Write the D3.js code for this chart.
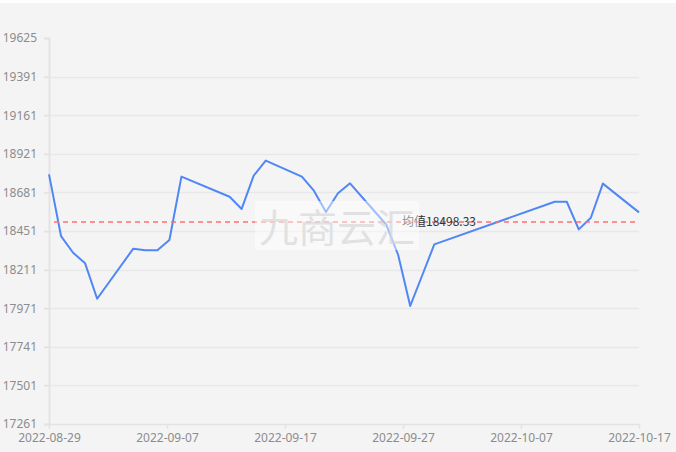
<!DOCTYPE html>
<html>
<head>
<meta charset="utf-8">
<script src="https://cdn.jsdelivr.net/npm/d3@7"></script>
<style>
  html, body { margin: 0; padding: 0; background: #ffffff; }
  svg { display: block; }
  text { font-family: "Noto Sans", "Noto Sans CJK SC", sans-serif; }
</style>
</head>
<body>
<svg id="chart" width="676" height="452"></svg>
<script>
// ---- data ----
const dates = [
  "2022-08-29","2022-08-30","2022-08-31","2022-09-01","2022-09-02",
  "2022-09-05","2022-09-06","2022-09-07","2022-09-08","2022-09-09",
  "2022-09-13","2022-09-14","2022-09-15","2022-09-16",
  "2022-09-19","2022-09-20","2022-09-21","2022-09-22","2022-09-23",
  "2022-09-26","2022-09-27","2022-09-28","2022-09-29","2022-09-30",
  "2022-10-10","2022-10-11","2022-10-12","2022-10-13","2022-10-14",
  "2022-10-17"
];
const values = [
  18790, 18412, 18310, 18245, 18028,
  18335, 18325, 18325, 18388, 18776,
  18653, 18578, 18782, 18874,
  18776, 18690, 18559, 18674, 18735,
  18483, 18296, 17984, 18172, 18361,
  18622, 18622, 18453, 18524, 18733,
  18557
];
const yTickLabels = ["17261","17501","17741","17971","18211","18451","18681","18921","19161","19391","19625"];
const xTickLabels = ["2022-08-29","2022-09-07","2022-09-17","2022-09-27","2022-10-07","2022-10-17"];
const meanValue = 18498.33;
const meanLabel = "均值18498.33";
const watermark = "九商云汇";

// ---- layout ----
const W = 676, H = 452;
const plot = { left: 49, right: 639, top: 38, bottom: 424 };
const svg = d3.select("#chart");

svg.append("rect").attr("x", 0).attr("y", 3).attr("width", W).attr("height", H - 3).attr("fill", "#f4f4f4");

const parse = d3.utcParse("%Y-%m-%d");
const pts = dates.map((d, i) => ({ date: parse(d), value: values[i] }));

const yMin = +yTickLabels[0], yMax = +yTickLabels[yTickLabels.length - 1];
const x = d3.scaleUtc()
  .domain([parse(xTickLabels[0]), parse(xTickLabels[xTickLabels.length - 1])])
  .range([plot.left, plot.right]);
const y = d3.scaleLinear().domain([yMin, yMax]).range([plot.bottom, plot.top]);

const nY = yTickLabels.length - 1;
const yTickVals = d3.range(nY + 1).map(i => yMin + i * (yMax - yMin) / nY);
const [t0, t1] = x.domain().map(d => +d);
const nX = xTickLabels.length - 1;
const xTickVals = d3.range(nX + 1).map(i => new Date(t0 + i * (t1 - t0) / nX));

// gridlines
svg.append("g").selectAll("line")
  .data(yTickVals.slice(1, -1))
  .join("line")
  .attr("x1", plot.left - 5).attr("x2", plot.right)
  .attr("y1", d => Math.round(y(d)) + 0.5).attr("y2", d => Math.round(y(d)) + 0.5)
  .attr("stroke", "#e8e8e8").attr("stroke-width", 1.5);

// y axis
const yAxis = d3.axisLeft(y).tickValues(yTickVals).tickSize(5).tickPadding(7)
  .tickFormat((d, i) => yTickLabels[i]);
const gy = svg.append("g").attr("transform", `translate(${plot.left},0)`).call(yAxis);
gy.select(".domain").attr("stroke", "#e3e3e3").attr("stroke-width", 2);
gy.selectAll(".tick line").attr("stroke", "#e3e3e3").attr("stroke-width", 1.5);
gy.selectAll(".tick text").attr("fill", "#8c8c8c").attr("font-size", 12)
  .style("font-family", '"Noto Sans", sans-serif');

// x axis
const xAxis = d3.axisBottom(x).tickValues(xTickVals).tickSize(5).tickSizeOuter(0).tickPadding(4)
  .tickFormat((d, i) => xTickLabels[i]);
const gx = svg.append("g").attr("transform", `translate(0,${plot.bottom})`).call(xAxis);
gx.select(".domain").attr("stroke", "#e3e3e3").attr("stroke-width", 1.5);
gx.selectAll(".tick line").attr("stroke", "#e3e3e3").attr("stroke-width", 1.5);
gx.selectAll(".tick text").attr("fill", "#8c8c8c").attr("font-size", 12)
  .style("font-family", '"Noto Sans", sans-serif');

// series line
const line = d3.line().x(d => x(d.date)).y(d => y(d.value));
svg.append("path").datum(pts)
  .attr("d", line)
  .attr("fill", "none")
  .attr("stroke", "#5087f5")
  .attr("stroke-width", 2)
  .attr("stroke-linejoin", "round");

// mean line
svg.append("line")
  .attr("x1", plot.left + 5).attr("x2", plot.right)
  .attr("y1", y(meanValue)).attr("y2", y(meanValue))
  .attr("stroke", "#ff6f6f").attr("stroke-width", 1.6)
  .attr("stroke-dasharray", "5,4");
svg.append("text")
  .attr("x", 402).attr("y", y(meanValue) + 4.5)
  .attr("fill", "#333").attr("font-size", 12)
  .style("font-family", '"Noto Sans CJK SC", "Noto Sans", sans-serif')
  .text(meanLabel);

// watermark
const wm = svg.append("g");
wm.append("rect").attr("x", 255).attr("y", 201).attr("width", 164).attr("height", 49)
  .attr("fill", "rgba(255,255,255,0.45)");
wm.append("text").attr("x", 337).attr("y", 242).attr("text-anchor", "middle")
  .attr("font-size", 39).attr("fill", "rgba(215,215,215,0.7)")
  .style("font-family", '"Noto Sans CJK SC", sans-serif')
  .text(watermark);
</script>
</body>
</html>
